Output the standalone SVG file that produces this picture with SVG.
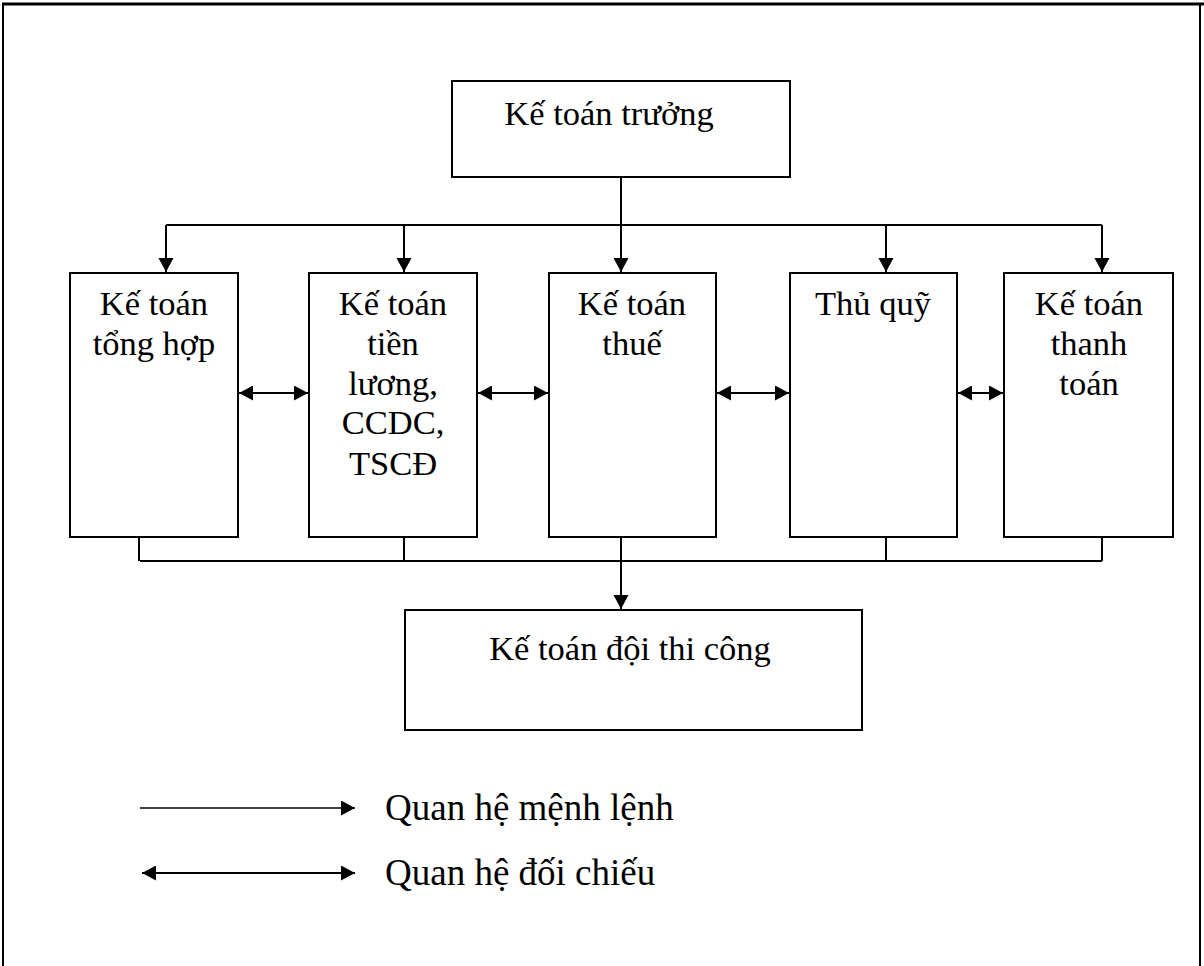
<svg xmlns="http://www.w3.org/2000/svg" width="1204" height="966" viewBox="0 0 1204 966">
<style>
.box{fill:#fff;stroke:#000;stroke-width:2}
.ln{fill:none;stroke:#000;stroke-width:2}
.t{font-family:"Liberation Serif","Times New Roman",serif;font-size:34.5px;fill:#000;text-anchor:middle}
.tl{font-family:"Liberation Serif","Times New Roman",serif;font-size:37px;fill:#000}
</style>
<defs>
<marker id="ah" markerUnits="userSpaceOnUse" markerWidth="15" markerHeight="16" refX="14" refY="7.5" orient="auto">
<path d="M0,0 L14,7.5 L0,15 z" fill="#000"/>
</marker>
<marker id="as" markerUnits="userSpaceOnUse" markerWidth="15" markerHeight="16" refX="0" refY="7.5" orient="auto">
<path d="M14,0 L0,7.5 L14,15 z" fill="#000"/>
</marker>
</defs>
<g id="frame">
<line x1="2" y1="4" x2="1204" y2="4" stroke="#000" stroke-width="3"/>
<line x1="3" y1="3" x2="3" y2="966" stroke="#000" stroke-width="2"/>
<line x1="1200" y1="3" x2="1200" y2="966" stroke="#000" stroke-width="2"/>
</g>
<g id="connectors">
<line class="ln" x1="621" y1="177" x2="621" y2="272" marker-end="url(#ah)"/>
<line class="ln" x1="166" y1="225" x2="1102" y2="225"/>
<line class="ln" x1="166" y1="225" x2="166" y2="272" marker-end="url(#ah)"/>
<line class="ln" x1="404" y1="225" x2="404" y2="272" marker-end="url(#ah)"/>
<line class="ln" x1="886" y1="225" x2="886" y2="272" marker-end="url(#ah)"/>
<line class="ln" x1="1102" y1="225" x2="1102" y2="272" marker-end="url(#ah)"/>
<line class="ln" x1="239" y1="393" x2="308" y2="393" marker-start="url(#as)" marker-end="url(#ah)"/>
<line class="ln" x1="478" y1="393" x2="548" y2="393" marker-start="url(#as)" marker-end="url(#ah)"/>
<line class="ln" x1="717" y1="393" x2="789" y2="393" marker-start="url(#as)" marker-end="url(#ah)"/>
<line class="ln" x1="958" y1="393" x2="1003" y2="393" marker-start="url(#as)" marker-end="url(#ah)"/>
<line class="ln" x1="139" y1="537" x2="139" y2="561"/>
<line class="ln" x1="140" y1="561" x2="1102" y2="561"/>
<line class="ln" x1="404" y1="537" x2="404" y2="561"/>
<line class="ln" x1="886" y1="537" x2="886" y2="561"/>
<line class="ln" x1="1102" y1="537" x2="1102" y2="561"/>
<line class="ln" x1="621" y1="537" x2="621" y2="609" marker-end="url(#ah)"/>
</g>
<g id="n-truong">
<rect class="box" x="452" y="81" width="338" height="96"/>
<text class="t" x="609" y="125">Kế toán trưởng</text>
</g>
<g id="n-tonghop">
<rect class="box" x="70" y="273" width="168" height="264"/>
<text class="t" x="154" y="315">Kế toán</text>
<text class="t" x="154" y="355">tổng hợp</text>
</g>
<g id="n-tienluong">
<rect class="box" x="309" y="273" width="168" height="264"/>
<text class="t" x="393" y="315">Kế toán</text>
<text class="t" x="393" y="355">tiền</text>
<text class="t" x="393" y="395">lương,</text>
<text class="t" x="393" y="434">CCDC,</text>
<text class="t" x="393" y="475">TSCĐ</text>
</g>
<g id="n-thue">
<rect class="box" x="549" y="273" width="167" height="264"/>
<text class="t" x="632" y="315">Kế toán</text>
<text class="t" x="632" y="355">thuế</text>
</g>
<g id="n-thuquy">
<rect class="box" x="790" y="273" width="167" height="264"/>
<text class="t" x="873" y="315">Thủ quỹ</text>
</g>
<g id="n-thanhtoan">
<rect class="box" x="1004" y="273" width="169" height="264"/>
<text class="t" x="1089" y="315">Kế toán</text>
<text class="t" x="1089" y="355">thanh</text>
<text class="t" x="1089" y="395">toán</text>
</g>
<g id="n-doithicong">
<rect class="box" x="405" y="610" width="457" height="120"/>
<text class="t" x="630" y="660">Kế toán đội thi công</text>
</g>
<g id="legend">
<line x1="140" y1="808" x2="355" y2="808" stroke="#000" stroke-width="1.5" marker-end="url(#ah)"/>
<text class="tl" x="385" y="820">Quan hệ mệnh lệnh</text>
<line class="ln" x1="142" y1="873" x2="355" y2="873" marker-start="url(#as)" marker-end="url(#ah)"/>
<text class="tl" x="385" y="885">Quan hệ đối chiếu</text>
</g>
</svg>
